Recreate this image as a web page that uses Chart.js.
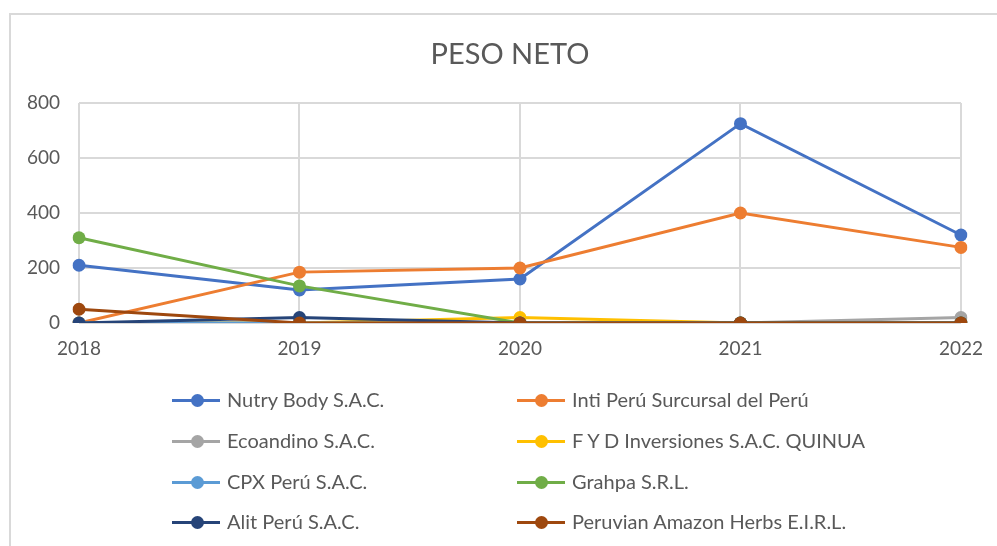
<!DOCTYPE html>
<html>
<head>
<meta charset="utf-8">
<script src="https://cdn.jsdelivr.net/npm/chart.js@4/dist/chart.umd.min.js"></script>
<style>
  html, body { margin: 0; padding: 0; background: #fff; }
  #wrap { position: relative; width: 997px; height: 546px; overflow: hidden; background: #fff; }
  #frame { position: absolute; left: 9px; top: 13px; width: 990px; height: 540px;
           border-top: 2px solid #d9d9d9; border-left: 2px solid #d9d9d9; box-sizing: border-box; }
  #c { position: absolute; left: 0; top: 0; }
  #title { position: absolute; left: 310px; width: 400px; top: 35px; text-align: center;
           font-family: Lato, "Open Sans", sans-serif; font-size: 29px; color: #595959; line-height: 35px; }
  .lg { position: absolute; font-family: Lato, "Open Sans", sans-serif; font-size: 20px; color: #595959;
        white-space: nowrap; line-height: 24px; }
  .lg .ln { position: absolute; height: 3px; width: 48px; top: -1.5px; }
  .lg .dt { position: absolute; width: 13px; height: 13px; border-radius: 50%; top: -6.5px; }
  .lg .tx { position: absolute; top: -13px; }
</style>
</head>
<body>
<div id="wrap">
  <div id="frame"></div>
  <canvas id="c" width="997" height="546"></canvas>
  <div id="title"></div>
  <div id="legend"></div>
</div>
<script>
const chartTitle = 'PESO NETO';
const categories = ['2018', '2019', '2020', '2021', '2022'];
const seriesNames = [
  'Nutry Body S.A.C.',
  'Inti Perú Surcursal del Perú',
  'Ecoandino S.A.C.',
  'F Y D Inversiones S.A.C. QUINUA',
  'CPX Perú S.A.C.',
  'Grahpa S.R.L.',
  'Alit Perú S.A.C.',
  'Peruvian Amazon Herbs E.I.R.L.'
];
const nutryBody   = [210, 120, 160, 725, 320];
const intiPeru    = [0, 185, 200, 400, 275];
const ecoandino   = [0, 0, 0, 0, 20];
const fydInversiones = [0, 0, 20, 0, 0];
const cpxPeru     = [0, 0, 0, 0, 0];
const grahpa      = [310, 135, 0, 0, 0];
const alitPeru    = [0, 20, 0, 0, 0];
const peruvianAmazon = [50, 0, 0, 0, 0];
const yTicks = [0, 200, 400, 600, 800];

const seriesValues = [nutryBody, intiPeru, ecoandino, fydInversiones, cpxPeru, grahpa, alitPeru, peruvianAmazon];
const colors = ['#4472C4', '#ED7D31', '#A5A5A5', '#FFC000', '#5B9BD5', '#70AD47', '#264478', '#9E480E'];

document.getElementById('title').textContent = chartTitle;

const datasets = seriesNames.map((name, i) => ({
  label: name,
  data: seriesValues[i],
  borderColor: colors[i],
  backgroundColor: colors[i],
  pointBackgroundColor: colors[i],
  pointBorderColor: colors[i],
  borderWidth: 3,
  pointRadius: 6.5,
  pointBorderWidth: 0,
  tension: 0,
  order: seriesNames.length - i
}));

const FONT = 'Lato, "Open Sans", sans-serif';
const TXT = '#595959';

new Chart(document.getElementById('c'), {
  type: 'line',
  data: { labels: categories, datasets },
  options: {
    responsive: false,
    animation: false,
    events: [],
    layout: { padding: { left: 0, right: 33, top: 103, bottom: 183 } },
    plugins: {
      legend: { display: false },
      tooltip: { enabled: false },
      title: { display: false }
    },
    scales: {
      x: {
        offset: false,
        grid: { color: '#d9d9d9', lineWidth: 2, drawTicks: false },
        border: { display: false },
        ticks: { color: TXT, font: { family: FONT, size: 19 }, padding: 14, maxRotation: 0 },
        afterFit: s => { s.height = 40; }
      },
      y: {
        min: 0, max: 800,
        afterBuildTicks: s => { s.ticks = yTicks.map(v => ({ value: v })); },
        grid: { color: '#d9d9d9', lineWidth: 2, drawTicks: false },
        border: { display: false },
        ticks: { color: TXT, font: { family: FONT, size: 19 }, padding: 19 },
        afterFit: s => { s.width = 79; }
      }
    }
  }
});

// HTML legend in two columns, built from the series arrays
const legend = document.getElementById('legend');
const colX = [[172, 197, 227], [517, 541, 572]];
const rowY = [400, 441, 482, 522];
seriesNames.forEach((name, i) => {
  const col = i % 2, row = Math.floor(i / 2);
  const el = document.createElement('div');
  el.className = 'lg';
  el.style.left = '0px';
  el.style.top = rowY[row] + 'px';
  const [lx, dx, tx] = colX[col];
  el.innerHTML =
    `<div class="ln" style="left:${lx}px;background:${colors[i]}"></div>` +
    `<div class="dt" style="left:${dx - 6.5}px;background:${colors[i]}"></div>` +
    `<div class="tx" style="left:${tx}px"></div>`;
  el.querySelector('.tx').textContent = name;
  legend.appendChild(el);
});
</script>
</body>
</html>
